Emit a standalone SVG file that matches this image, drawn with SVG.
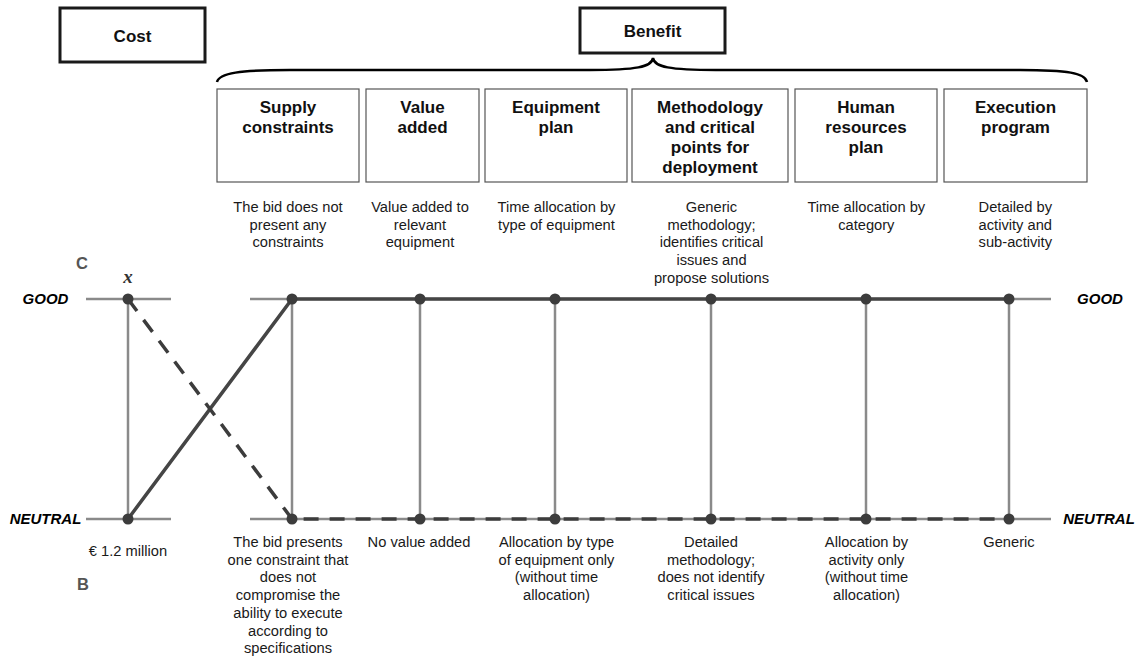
<svg xmlns="http://www.w3.org/2000/svg" width="1138" height="659" viewBox="0 0 1138 659">
<style>
.hdr{font-family:"Liberation Sans",Arial,sans-serif;font-weight:bold;font-size:17px;fill:#111;text-anchor:middle}
.desc{font-family:"Liberation Sans",Arial,sans-serif;font-size:14.7px;fill:#1a1a1a;text-anchor:middle}
.lvl{font-family:"Liberation Sans",Arial,sans-serif;font-weight:bold;font-style:italic;font-size:15px;fill:#000;text-anchor:middle}
.ab{font-family:"Liberation Sans",Arial,sans-serif;font-weight:bold;font-size:16.5px;fill:#555}
.topbox{fill:#fff;stroke:#1a1a1a;stroke-width:3}
.colbox{fill:#fff;stroke:#555;stroke-width:1.2}
.axis{stroke:#8a8a8a;stroke-width:2.5;fill:none}
.solid{stroke:#454545;stroke-width:3.5;fill:none}
.dash{stroke:#3c3c3c;stroke-width:3.5;fill:none;stroke-dasharray:15 11}
.dot{fill:#3c3c3c}
</style>

<g id="cost">
<rect class="topbox" x="60" y="8" width="145" height="54"/>
<text class="hdr" x="132.5" y="42">Cost</text>
</g>
<g id="benefit">
<rect class="topbox" x="580" y="8" width="145" height="45"/>
<text class="hdr" x="652.5" y="37">Benefit</text>
</g>
<g id="brace">
<path d="M217,82 C219,73 240,70 290,70 L590,70 C636,70 652,67 653,58 C654,67 670,70 716,70 L1020,70 C1068,70 1085,73 1087,82" fill="none" stroke="#000" stroke-width="2.5"/>
</g>

<g id="col-supply">
<rect class="colbox" x="217" y="89" width="142" height="93"/>
<text class="hdr" x="288" y="113">Supply</text>
<text class="hdr" x="288" y="133">constraints</text>
<text class="desc" x="288" y="212">The bid does not</text>
<text class="desc" x="288" y="229.7">present any</text>
<text class="desc" x="288" y="247.4">constraints</text>
<text class="desc" x="288" y="547">The bid presents</text>
<text class="desc" x="288" y="564.7">one constraint that</text>
<text class="desc" x="288" y="582.4">does not</text>
<text class="desc" x="288" y="600.1">compromise the</text>
<text class="desc" x="288" y="617.8">ability to execute</text>
<text class="desc" x="288" y="635.5">according to</text>
<text class="desc" x="288" y="653.2">specifications</text>
</g>
<g id="col-value">
<rect class="colbox" x="366" y="89" width="113" height="93"/>
<text class="hdr" x="422.5" y="113">Value</text>
<text class="hdr" x="422.5" y="133">added</text>
<text class="desc" x="420" y="212">Value added to</text>
<text class="desc" x="420" y="229.7">relevant</text>
<text class="desc" x="420" y="247.4">equipment</text>
<text class="desc" x="419" y="547">No value added</text>
</g>
<g id="col-equipment">
<rect class="colbox" x="485" y="89" width="142" height="93"/>
<text class="hdr" x="556" y="113">Equipment</text>
<text class="hdr" x="556" y="133">plan</text>
<text class="desc" x="556.5" y="212">Time allocation by</text>
<text class="desc" x="556.5" y="229.7">type of equipment</text>
<text class="desc" x="556.5" y="547">Allocation by type</text>
<text class="desc" x="556.5" y="564.7">of equipment only</text>
<text class="desc" x="556.5" y="582.4">(without time</text>
<text class="desc" x="556.5" y="600.1">allocation)</text>
</g>
<g id="col-methodology">
<rect class="colbox" x="632" y="89" width="156" height="93"/>
<text class="hdr" x="710" y="113">Methodology</text>
<text class="hdr" x="710" y="133">and critical</text>
<text class="hdr" x="710" y="153">points for</text>
<text class="hdr" x="710" y="173">deployment</text>
<text class="desc" x="711.5" y="212">Generic</text>
<text class="desc" x="711.5" y="229.7">methodology;</text>
<text class="desc" x="711.5" y="247.4">identifies critical</text>
<text class="desc" x="711.5" y="265.1">issues and</text>
<text class="desc" x="711.5" y="282.8">propose solutions</text>
<text class="desc" x="711" y="547">Detailed</text>
<text class="desc" x="711" y="564.7">methodology;</text>
<text class="desc" x="711" y="582.4">does not identify</text>
<text class="desc" x="711" y="600.1">critical issues</text>
</g>
<g id="col-human">
<rect class="colbox" x="795" y="89" width="142" height="93"/>
<text class="hdr" x="866" y="113">Human</text>
<text class="hdr" x="866" y="133">resources</text>
<text class="hdr" x="866" y="153">plan</text>
<text class="desc" x="866.3" y="212">Time allocation by</text>
<text class="desc" x="866.3" y="229.7">category</text>
<text class="desc" x="866.5" y="547">Allocation by</text>
<text class="desc" x="866.5" y="564.7">activity only</text>
<text class="desc" x="866.5" y="582.4">(without time</text>
<text class="desc" x="866.5" y="600.1">allocation)</text>
</g>
<g id="col-execution">
<rect class="colbox" x="944" y="89" width="143" height="93"/>
<text class="hdr" x="1015.5" y="113">Execution</text>
<text class="hdr" x="1015.5" y="133">program</text>
<text class="desc" x="1015.3" y="212">Detailed by</text>
<text class="desc" x="1015.3" y="229.7">activity and</text>
<text class="desc" x="1015.3" y="247.4">sub-activity</text>
<text class="desc" x="1009" y="547">Generic</text>
</g>

<g id="labels">
<text class="lvl" x="45.5" y="304">GOOD</text>
<text class="lvl" x="45.5" y="524">NEUTRAL</text>
<text class="lvl" x="1100" y="304">GOOD</text>
<text class="lvl" x="1099" y="524">NEUTRAL</text>
<text class="ab" x="76" y="269">C</text>
<text class="ab" x="77" y="590">B</text>
<text x="128" y="283" font-family="'Liberation Serif','Times New Roman',serif" font-style="italic" font-weight="bold" font-size="19" fill="#333" text-anchor="middle">x</text>
<text class="desc" x="128" y="556">€ 1.2 million</text>
</g>

<g id="connectors">
<line class="axis" x1="86" y1="299" x2="171" y2="299"/>
<line class="axis" x1="86" y1="519" x2="171" y2="519"/>
<line class="axis" x1="128" y1="299" x2="128" y2="519"/>
<line class="axis" x1="250" y1="299" x2="1051" y2="299"/>
<line class="axis" x1="250" y1="519" x2="1051" y2="519"/>
<line class="axis" x1="292" y1="299" x2="292" y2="519"/>
<line class="axis" x1="420" y1="299" x2="420" y2="519"/>
<line class="axis" x1="555" y1="299" x2="555" y2="519"/>
<line class="axis" x1="711" y1="299" x2="711" y2="519"/>
<line class="axis" x1="866" y1="299" x2="866" y2="519"/>
<line class="axis" x1="1009" y1="299" x2="1009" y2="519"/>
<path class="solid" d="M128,519 L292,299 L1009,299"/>
<path class="dash" d="M128,299 L292,519 L1009,519"/>
<circle class="dot" cx="128" cy="299" r="5.5"/>
<circle class="dot" cx="128" cy="519" r="5.5"/>
<circle class="dot" cx="292" cy="299" r="5.5"/>
<circle class="dot" cx="420" cy="299" r="5.5"/>
<circle class="dot" cx="555" cy="299" r="5.5"/>
<circle class="dot" cx="711" cy="299" r="5.5"/>
<circle class="dot" cx="866" cy="299" r="5.5"/>
<circle class="dot" cx="1009" cy="299" r="5.5"/>
<circle class="dot" cx="292" cy="519" r="5.5"/>
<circle class="dot" cx="420" cy="519" r="5.5"/>
<circle class="dot" cx="555" cy="519" r="5.5"/>
<circle class="dot" cx="711" cy="519" r="5.5"/>
<circle class="dot" cx="866" cy="519" r="5.5"/>
<circle class="dot" cx="1009" cy="519" r="5.5"/>
</g>
</svg>
